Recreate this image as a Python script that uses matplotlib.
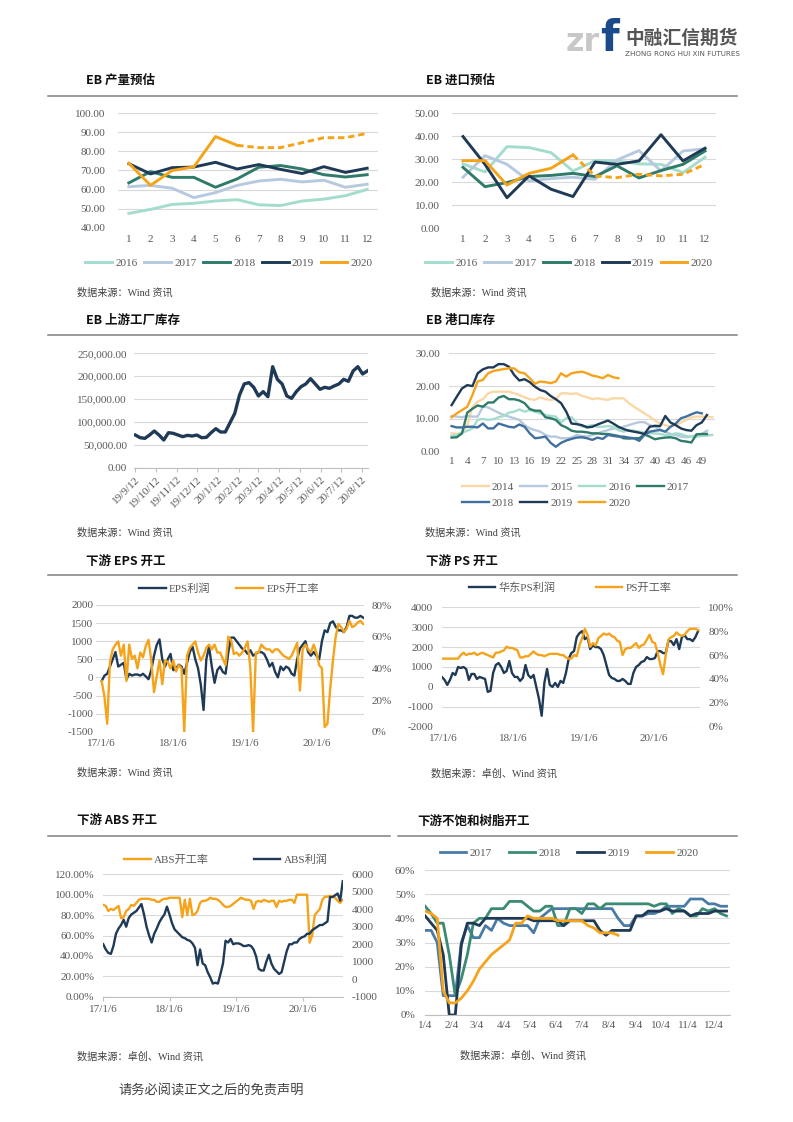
import numpy as np
import pandas as pd
import matplotlib
matplotlib.use('Agg')
import matplotlib.pyplot as plt
import matplotlib.dates as mdates
from matplotlib.lines import Line2D
from matplotlib.ticker import FuncFormatter, MultipleLocator

plt.rcParams['font.family'] = ['Liberation Serif', 'Noto Sans CJK SC']
plt.rcParams['axes.unicode_minus'] = False

# 颜色
NAVY = '#1F3A56'
ORANGE = '#F5A31A'
TEAL = '#2E7B69'
LTEAL = '#A4DCCD'
LBLUE = '#B6C9DE'
PEACH = '#F9D8A6'
STEEL = '#41709F'
STEEL2 = '#4A7BA6'
GREEN2 = '#3A8A74'
GRID = '#D9D9D9'
TXT = '#595959'

# ---------------- 数据 ----------------
months = list(range(1, 13))
prod_2016 = [47.5, 49.6, 52.2, 52.8, 54.0, 54.7, 52.0, 51.6, 54.0, 55.0, 56.8, 60.1]
prod_2017 = [61.5, 62.2, 60.7, 55.8, 58.4, 62.2, 64.5, 65.4, 64.0, 64.9, 61.2, 62.8]
prod_2018 = [63.5, 69.4, 66.4, 66.4, 61.2, 65.6, 71.7, 72.6, 70.8, 67.8, 66.6, 67.8]
prod_2019 = [73.6, 68.2, 71.5, 71.8, 74.3, 70.8, 73.1, 70.6, 68.4, 72.0, 69.0, 71.2]
prod_2020 = [73.8, 62.2, 70.0, 71.9, 87.8, 83.2]
prod_2020_fcst = [83.2, 82.0, 82.0, 84.6, 87.2, 87.2, 89.5]

imp_2016 = [28.0, 24.5, 35.5, 35.1, 32.9, 24.9, 29.4, 29.3, 28.0, 27.8, 24.2, 30.9]
imp_2017 = [22.2, 31.6, 27.8, 20.6, 21.6, 22.2, 21.3, 29.7, 33.8, 24.9, 33.6, 34.6]
imp_2018 = [26.5, 18.1, 19.9, 22.5, 23.0, 23.9, 22.5, 27.2, 21.9, 25.1, 27.8, 33.6]
imp_2019 = [39.9, 27.8, 13.3, 22.8, 17.0, 13.8, 28.8, 27.8, 29.3, 40.7, 29.3, 34.8]
imp_2020 = [29.4, 29.4, 18.8, 23.9, 26.1, 31.9]
imp_2020_fcst = [31.9, 22.8, 22.0, 23.5, 22.8, 23.5, 27.8]

# 上游工厂库存 (周度, 自 2019-09-12)
fac_stock = [71400, 65600, 64100, 71400, 80200, 71400, 60500, 76500, 75100, 71400,
             67800, 70700, 69200, 71400, 65600, 66300, 76500, 85300, 78000, 78000,
             98400, 118800, 158900, 183000, 185900, 175700, 156700, 166200, 155200, 220800,
             193100, 183000, 156700, 151600, 166200, 177100, 183000, 194600, 183000, 171300,
             175700, 173500, 178600, 183000, 193100, 188800, 211400, 220800, 204800, 211400]

# 港口库存 (按周)
port_2014 = [5.6, 5.4, 5.8, 8.1, 13.7, 15.3, 16.0, 17.8, 18.3, 18.3,
             18.3, 18.3, 17.8, 17.3, 16.6, 16.0, 15.8, 16.6, 16.0, 15.8,
             16.0, 17.8, 17.8, 17.6, 17.8, 17.0, 16.6, 16.0, 16.3, 16.0,
             15.8, 16.3, 16.3, 16.3, 14.8, 13.7, 12.7, 11.7, 10.7, 9.5,
             8.6, 8.1, 7.6, 8.1, 8.9, 9.7, 10.5, 10.7, 10.7, 10.7, 10.5]
port_2015 = [10.9, 10.7, 10.5, 10.9, 10.7, 10.7, 13.7, 13.5, 12.7, 11.9,
             11.2, 10.7, 10.2, 9.7, 8.1, 7.1, 6.6, 6.1, 5.1, 4.6,
             4.6, 4.1, 4.1, 4.3, 5.1, 4.8, 4.6, 5.1, 5.6, 6.1,
             6.6, 7.1, 7.1, 7.6, 8.1, 8.6, 9.0, 9.0, 8.1, 7.6,
             6.8, 6.1, 5.4, 5.1, 4.6, 4.4, 4.6, 5.1, 5.4, 6.4]
port_2016 = [4.8, 5.1, 5.8, 6.4, 7.1, 9.7, 10.0, 9.7, 9.9, 10.5,
             10.9, 11.9, 12.2, 12.9, 12.2, 12.7, 12.2, 11.7, 11.2, 10.9,
             10.7, 8.9, 10.2, 10.5, 8.9, 7.6, 7.8, 8.1, 7.6, 7.6,
             7.8, 7.6, 6.6, 6.1, 6.6, 6.4, 6.1, 5.8, 5.6, 5.6,
             5.4, 5.1, 5.1, 5.6, 5.4, 4.8, 4.6, 4.6, 4.8, 4.9, 5.1]
port_2017 = [4.3, 4.4, 5.6, 11.9, 13.1, 14.1, 13.7, 15.0, 15.0, 16.5,
             17.0, 16.0, 16.0, 15.6, 14.8, 13.0, 12.5, 12.5, 10.5, 10.2,
             9.7, 8.1, 7.4, 6.4, 6.1, 6.1, 5.9, 5.6, 5.6, 5.4,
             5.4, 5.1, 4.8, 4.1, 4.0, 4.1, 4.1, 5.3, 4.6, 3.8,
             4.1, 4.3, 4.4, 4.1, 3.3, 3.1, 2.8, 5.3, 5.4, 5.4]
port_2018 = [7.8, 7.4, 7.4, 7.6, 7.6, 7.4, 8.6, 7.1, 7.1, 8.6,
             8.1, 7.6, 7.4, 8.3, 7.6, 5.6, 4.1, 4.3, 4.6, 2.7,
             1.5, 2.7, 3.4, 3.9, 4.3, 4.4, 4.1, 3.6, 4.3, 3.9,
             5.1, 4.8, 4.6, 4.6, 4.3, 4.1, 3.3, 5.1, 6.1, 6.4,
             6.6, 6.1, 7.6, 8.6, 10.2, 10.7, 11.4, 12.0, 11.7]
port_2019 = [14.2, 16.8, 19.3, 20.3, 20.0, 23.9, 25.1, 25.7, 25.7, 26.7,
             26.7, 25.9, 23.4, 21.7, 22.1, 21.2, 19.8, 18.8, 18.3, 17.0,
             16.0, 14.8, 12.2, 8.6, 8.4, 8.1, 7.4, 7.6, 8.3, 8.9,
             9.5, 8.6, 7.6, 6.9, 6.4, 6.1, 5.8, 5.4, 7.6, 7.9,
             7.8, 10.9, 8.9, 8.1, 7.1, 6.6, 6.4, 8.1, 8.9, 11.2]
port_2020 = [10.5, 11.7, 12.7, 13.7, 17.3, 21.4, 21.9, 23.9, 24.6, 24.9,
             25.2, 25.4, 25.4, 24.2, 23.9, 22.4, 20.7, 21.4, 21.2, 20.9,
             21.4, 23.9, 22.9, 23.9, 24.2, 24.4, 23.9, 23.2, 22.9, 22.4,
             23.4, 22.7, 22.4]

# EPS (双周, 自 2017-01-06)
eps_profit = [-100, 50, 100, 300, 500, 700, 300, 350, 400, -50,
              100, 50, 80, 80, 50, 100, 30, -50, 200, 600,
              900, 1050, 500, 300, 500, 650, 200, 250, 350, 300,
              100, 400, 700, 850, 500, 250, -200, -900, 500, 850,
              300, -150, 200, 300, 150, 100, 700, 1100, 1100, 1000,
              900, 800, 750, 650, 750, 600, 650, 700, 700, 650,
              500, 300, 400, 150, 0, 300, 200, 300, 250, 100,
              50, 500, 800, 900, 1000, 700, 600, 700, 600, 500,
              1000, 1300, 1250, 1500, 1550, 1400, 1300, 1300, 1250, 1400,
              1700, 1700, 1650, 1650, 1700, 1650]
eps_rate = [32, 22, 5, 44, 52, 55, 57, 48, 55, 32,
            55, 46, 48, 40, 50, 47, 54, 58, 45, 25,
            35, 45, 30, 45, 44, 40, 45, 38, 42, 40,
            0, 48, 53, 55, 57, 50, 45, 48, 53, 55,
            52, 55, 50, 50, 46, 42, 60, 58, 49, 50,
            48, 50, 53, 57, 40, 0, 50, 50, 55, 53,
            52, 52, 50, 52, 52, 50, 48, 47, 46, 48,
            52, 56, 26, 52, 55, 52, 50, 55, 50, 42,
            40, 3, 5, 27, 45, 60, 68, 66, 63, 65,
            70, 66, 67, 69, 70, 68]

# PS (双周, 自 2016-12-30)
ps_profit = [500, 350, 100, 350, 700, 600, 1000, 950, 1000, 900,
             350, 650, 650, 400, 500, 450, 400, -250, -200, 700,
             1100, 1200, 1000, 700, 800, 1300, 700, 500, 500, 300,
             450, 1100, 600, 450, 600, 0, -600, -1450, 200, 900,
             100, 0, 200, 0, 300, 200, 700, 1400, 1700, 1800,
             2500, 2700, 2800, 2400, 2500, 1900, 2100, 2000, 2000, 1900,
             1600, 1100, 600, 450, 400, 300, 300, 400, 300, 150,
             150, 700, 1000, 1100, 1250, 1300, 1500, 1400, 1400, 1450,
             1800, 1800, 1700, 1700, 2300, 2300, 2100, 2400, 1900, 2500,
             2600, 2400, 2400, 2300, 2500, 2800]
ps_rate = [57, 57, 57, 57, 57, 57, 57, 60, 62, 60,
           61, 61, 62, 60, 61, 62, 61, 60, 59, 58,
           62, 62, 63, 64, 67, 66, 66, 65, 64, 58,
           58, 59, 59, 61, 63, 61, 60, 60, 59, 60,
           61, 61, 61, 61, 60, 60, 58, 57, 57, 60,
           59, 68, 74, 82, 77, 67, 70, 68, 74, 76,
           78, 77, 78, 76, 75, 72, 71, 60, 65, 66,
           66, 68, 70, 66, 68, 69, 73, 77, 71, 70,
           62, 52, 44, 60, 73, 75, 76, 79, 77, 76,
           77, 80, 82, 82, 82, 81]

# ABS (双周, 自 2017-01-06)
abs_rate = [90, 89, 84, 86, 85, 87, 89, 77, 78, 84,
            86, 90, 89, 92, 95, 96, 96, 96, 96, 95,
            95, 93, 93, 95, 96, 96, 97, 97, 97, 97,
            97, 78, 95, 80, 96, 80, 81, 84, 92, 94,
            94, 95, 97, 96, 96, 95, 93, 90, 88, 88,
            89, 91, 93, 95, 97, 96, 95, 95, 94, 86,
            93, 94, 93, 95, 94, 93, 94, 94, 88, 94,
            93, 94, 94, 95, 95, 92, 100, 100, 100, 100,
            100, 53, 60, 80, 83, 86, 95, 98, 98, 99,
            98, 97, 94, 92, 95]
abs_profit = [2000, 1700, 1500, 1450, 1900, 2600, 2900, 3100, 3400, 3000,
              3500, 3700, 3800, 3900, 4100, 4300, 3700, 3000, 2500, 2100,
              2600, 2900, 3250, 3500, 3700, 4150, 3700, 3200, 2850, 2700,
              2550, 2400, 2350, 2250, 2200, 2050, 1800, 800, 1700, 900,
              800, 400, 100, -250, -200, -250, 300, 900, 2200, 2100,
              2300, 2000, 2050, 2050, 2000, 1900, 1900, 1950, 1900, 1700,
              1300, 600, 500, 500, 1000, 1400, 900, 600, 450, 300,
              400, 1000, 1600, 2000, 2000, 2100, 2100, 2300, 2400, 2450,
              2600, 2600, 2800, 2900, 3000, 3100, 3100, 3200, 3300, 4700,
              4700, 4800, 4900, 4500, 5600]

# 不饱和树脂开工 (周度, %)
upr_2017 = [35, 35, 30, 8, 8, 8, 30, 37, 32, 32,
            37, 35, 40, 38, 37, 37, 37, 37, 34, 40,
            42, 44, 44, 44, 44, 44, 44, 44, 44, 44,
            44, 44, 40, 37, 37, 41, 41, 42, 42, 43,
            45, 45, 45, 45, 48, 48, 48, 46, 46, 45, 45]
upr_2018 = [45, 42, 38, 38, 25, 8, 15, 25, 38, 40,
            40, 44, 44, 44, 47, 47, 47, 45, 43, 43,
            45, 45, 37, 37, 44, 44, 42, 46, 46, 44,
            46, 46, 46, 46, 46, 46, 46, 46, 45, 46,
            46, 42, 44, 43, 41, 41, 44, 43, 44, 42, 41]
upr_2019 = [41, 38, 35, 25, 0, 0, 29, 38, 38, 37,
            40, 40, 40, 40, 40, 40, 40, 40, 39, 39,
            39, 39, 39, 37, 39, 39, 39, 39, 39, 35,
            33, 35, 35, 35, 35, 41, 41, 43, 43, 43,
            44, 43, 43, 43, 41, 42, 42, 42, 43, 43, 43]
upr_2020 = [43, 42, 40, 10, 5, 5, 7, 10, 14, 19,
            22, 25, 27, 29, 31, 38, 38, 41, 40, 40,
            40, 40, 39, 39, 39, 39, 39, 37, 36, 34,
            34, 34, 33]

# ---------------- 画布 ----------------
W, H = 793, 1122
fig = plt.figure(figsize=(W / 100, H / 100), dpi=100)


def px_axes(x0, y0, x1, y1):
    return fig.add_axes([x0 / W, 1 - y1 / H, (x1 - x0) / W, (y1 - y0) / H])


def ftext(x, y, s, **kw):
    fig.text(x / W, 1 - y / H, s, **kw)


def hrule(x0, x1, y):
    fig.add_artist(Line2D([x0 / W, x1 / W], [1 - y / H, 1 - y / H], color='#808080', lw=1.1))


def style_ax(ax, ypad=6, xpad=4):
    for s in ax.spines.values():
        s.set_visible(False)
    ax.grid(axis='y', color=GRID, lw=0.8)
    ax.set_axisbelow(True)
    ax.tick_params(axis='both', length=0, labelsize=8, colors=TXT)
    ax.tick_params(axis='y', pad=ypad)
    ax.tick_params(axis='x', pad=xpad)
    ax.set_facecolor('none')


def add_legend(ax, handles, labels, cx, cy, ncol, colsp=0.6, loc='center'):
    ax.legend(handles, labels, loc=loc, bbox_to_anchor=(cx / W, 1 - cy / H),
              bbox_transform=fig.transFigure, ncol=ncol, frameon=False, fontsize=8,
              handlelength=2.4, handletextpad=0.3, columnspacing=colsp,
              labelspacing=0.6, labelcolor=TXT, borderpad=0, borderaxespad=0)


def title(x, y, s):
    ftext(x, y, s, fontsize=9, weight='bold', family=['Noto Sans CJK SC'], va='center', color='#111111')


def source(x, y, s):
    ftext(x, y, s, fontsize=7.3, va='center', color='#404040')


# ---------------- 页眉 ----------------
ftext(566, 51, 'zr', fontsize=23, weight='bold', family=['DejaVu Sans'], color='#C8C8C8', va='baseline')
ftext(600, 51, 'f', fontsize=31, weight='bold', family=['DejaVu Sans'], color='#1B4A8A', va='baseline')
ftext(625, 38, '中融汇信期货', fontsize=13.5, weight='bold', family=['Noto Sans CJK SC'], color='#555555', va='center')
ftext(625, 54, 'ZHONG RONG HUI XIN FUTURES', fontsize=5.1, family=['DejaVu Sans'], color='#555555', va='center')

# ---------------- 行标题与分隔线 ----------------
title(86, 80, 'EB 产量预估')
title(426, 80, 'EB 进口预估')
hrule(48, 737, 95.5)
title(86, 320, 'EB 上游工厂库存')
title(426, 320, 'EB 港口库存')
hrule(48, 737, 335)
title(86, 562, '下游 EPS 开工')
title(426, 562, '下游 PS 开工')
hrule(48, 737, 575)
title(77, 821, '下游 ABS 开工')
title(417, 821, '下游不饱和树脂开工')
hrule(48, 390, 836)
hrule(398, 737, 836)

# ---------------- EB 产量预估 ----------------
ax = px_axes(118, 113.3, 378, 227.7)
style_ax(ax, ypad=9, xpad=5)
lw = 2.1
series = [(prod_2016, LTEAL, '2016'), (prod_2017, LBLUE, '2017'), (prod_2018, TEAL, '2018'),
          (prod_2019, NAVY, '2019')]
hs = []
for vals, c, lab in series:
    hs.append(ax.plot(months, vals, color=c, lw=lw)[0])
hs.append(ax.plot(months[:len(prod_2020)], prod_2020, color=ORANGE, lw=lw)[0])
ax.plot(months[len(prod_2020) - 1:], prod_2020_fcst, color=ORANGE, lw=lw, ls=(0, (2.2, 1.3)))
ax.set_xlim(0.5, 12.5)
ax.set_ylim(40, 100)
ax.set_xticks(months)
ax.yaxis.set_major_locator(MultipleLocator(10))
ax.yaxis.set_major_formatter(FuncFormatter(lambda v, p: f'{v:.2f}'))
add_legend(ax, hs, ['2016', '2017', '2018', '2019', '2020'], 229, 262.7, 5)
source(77, 293, '数据来源：Wind 资讯')

# ---------------- EB 进口预估 ----------------
ax = px_axes(452, 113.3, 716, 228.3)
style_ax(ax, ypad=9, xpad=5)
series = [(imp_2016, LTEAL, '2016'), (imp_2017, LBLUE, '2017'), (imp_2018, TEAL, '2018'),
          (imp_2019, NAVY, '2019')]
hs = []
for vals, c, lab in series:
    hs.append(ax.plot(months, vals, color=c, lw=lw)[0])
hs.append(ax.plot(months[:len(imp_2020)], imp_2020, color=ORANGE, lw=lw)[0])
ax.plot(months[len(imp_2020) - 1:], imp_2020_fcst, color=ORANGE, lw=lw, ls=(0, (2.2, 1.3)))
ax.set_xlim(0.5, 12.5)
ax.set_ylim(0, 50)
ax.set_xticks(months)
ax.yaxis.set_major_locator(MultipleLocator(10))
ax.yaxis.set_major_formatter(FuncFormatter(lambda v, p: f'{v:.2f}'))
add_legend(ax, hs, ['2016', '2017', '2018', '2019', '2020'], 569, 262.7, 5)
source(431, 293, '数据来源：Wind 资讯')

# ---------------- EB 上游工厂库存 ----------------
ax = px_axes(134, 353.3, 368, 467.7)
style_ax(ax, ypad=5)
fac_dates = pd.date_range('2019-09-12', periods=len(fac_stock), freq='7D')
ax.plot(fac_dates, fac_stock, color=NAVY, lw=2.4)
ax.set_xlim(pd.Timestamp('2019-09-10'), pd.Timestamp('2020-08-21'))
ax.set_ylim(0, 250000)
ax.yaxis.set_major_locator(MultipleLocator(50000))
ax.yaxis.set_major_formatter(FuncFormatter(lambda v, p: f'{v:,.2f}'))
ax.xaxis.set_major_locator(mdates.MonthLocator(bymonthday=12))
ax.xaxis.set_major_formatter(FuncFormatter(
    lambda v, p: f'{mdates.num2date(v).year % 100}/{mdates.num2date(v).month}/{mdates.num2date(v).day}'))
ax.spines['bottom'].set_visible(True)
ax.spines['bottom'].set_color('#BFBFBF')
ax.tick_params(axis='x', length=3, color='#BFBFBF', pad=2)
for lbl in ax.get_xticklabels():
    lbl.set_rotation(45)
    lbl.set_ha('right')
    lbl.set_rotation_mode('anchor')
source(77, 533, '数据来源：Wind 资讯')

# ---------------- EB 港口库存 ----------------
ax = px_axes(449, 353.3, 714.8, 451.7)
style_ax(ax, ypad=6.5, xpad=4)
port = [(port_2014, PEACH, '2014'), (port_2015, LBLUE, '2015'), (port_2016, LTEAL, '2016'),
        (port_2017, TEAL, '2017'), (port_2018, STEEL, '2018'), (port_2019, NAVY, '2019'),
        (port_2020, ORANGE, '2020')]
hmap = {}
for vals, c, lab in port:
    hmap[lab] = ax.plot(range(1, len(vals) + 1), vals, color=c, lw=1.7)[0]
ax.set_xlim(0.5, 51.5)
ax.set_ylim(0, 30)
ax.set_xticks(range(1, 50, 3))
ax.yaxis.set_major_locator(MultipleLocator(10))
ax.yaxis.set_major_formatter(FuncFormatter(lambda v, p: f'{v:.2f}'))
# 按行排列图例: 第一行 2014-2017, 第二行 2018-2020
order = ['2014', '2018', '2015', '2019', '2016', '2020', '2017']
add_legend(ax, [hmap[k] for k in order], order, 462, 495, 4, colsp=0.55, loc='center left')
source(425, 533, '数据来源：Wind 资讯')


def year_ticks(ax):
    ax.xaxis.set_major_locator(mdates.YearLocator(1, month=1, day=6))
    ax.xaxis.set_major_formatter(FuncFormatter(
        lambda v, p: f'{mdates.num2date(v).year % 100}/{mdates.num2date(v).month}/{mdates.num2date(v).day}'))


# ---------------- 下游 EPS ----------------
ax = px_axes(96, 605, 364, 731.7)
style_ax(ax, ypad=2, xpad=5)
eps_dates = pd.date_range('2017-01-06', periods=len(eps_profit), freq='14D')
h1 = ax.plot(eps_dates, eps_profit, color=NAVY, lw=1.7)[0]
ax.set_ylim(-1500, 2000)
ax.yaxis.set_major_locator(MultipleLocator(500))
ax.set_xlim(pd.Timestamp('2016-12-08'), pd.Timestamp('2020-09-01'))
year_ticks(ax)
ax2 = ax.twinx()
style_ax(ax2, ypad=5.5)
ax2.grid(False)
h2 = ax2.plot(eps_dates, np.array(eps_rate) / 100, color=ORANGE, lw=1.7)[0]
ax2.set_ylim(0, 0.8)
ax2.yaxis.set_major_locator(MultipleLocator(0.2))
ax2.yaxis.set_major_formatter(FuncFormatter(lambda v, p: f'{v:.0%}'))
add_legend(ax2, [h1, h2], ['EPS利润', 'EPS开工率'], 229, 589, 2, colsp=2.3)
source(77, 773, '数据来源：Wind 资讯')

# ---------------- 下游 PS ----------------
ax = px_axes(441.7, 607.3, 700, 726.7)
style_ax(ax, ypad=6, xpad=5)
ps_dates = pd.date_range('2016-12-30', periods=len(ps_profit), freq='14D')
h1 = ax.plot(ps_dates, ps_profit, color=NAVY, lw=1.7)[0]
ax.set_ylim(-2000, 4000)
ax.yaxis.set_major_locator(MultipleLocator(1000))
ax.set_xlim(pd.Timestamp('2016-12-29'), pd.Timestamp('2020-08-31'))
year_ticks(ax)
ax2 = ax.twinx()
style_ax(ax2, ypad=6)
ax2.grid(False)
h2 = ax2.plot(ps_dates, np.array(ps_rate) / 100, color=ORANGE, lw=1.7)[0]
ax2.set_ylim(0, 1.0)
ax2.yaxis.set_major_locator(MultipleLocator(0.2))
ax2.yaxis.set_major_formatter(FuncFormatter(lambda v, p: f'{v:.0%}'))
add_legend(ax2, [h1, h2], ['华东PS利润', 'PS开工率'], 570, 588, 2, colsp=3.6)
source(431, 773, '数据来源：卓创、Wind 资讯')

# ---------------- 下游 ABS ----------------
ax = px_axes(102.7, 874.3, 343.3, 996.7)
style_ax(ax, ypad=6, xpad=3)
abs_dates = pd.date_range('2017-01-06', periods=len(abs_rate), freq='14D')
h1 = ax.plot(abs_dates, np.array(abs_rate) / 100, color=ORANGE, lw=1.7)[0]
ax.set_ylim(0, 1.2)
ax.yaxis.set_major_locator(MultipleLocator(0.2))
ax.yaxis.set_major_formatter(FuncFormatter(lambda v, p: f'{v * 100:.2f}%'))
ax.set_xlim(pd.Timestamp('2017-01-03'), pd.Timestamp('2020-08-17'))
year_ticks(ax)
ax.spines['bottom'].set_visible(True)
ax.spines['bottom'].set_color('#BFBFBF')
ax.tick_params(axis='x', length=3, color='#BFBFBF')
ax2 = ax.twinx()
style_ax(ax2, ypad=6)
ax2.grid(False)
h2 = ax2.plot(abs_dates, abs_profit, color=NAVY, lw=1.7)[0]
ax2.set_ylim(-1000, 6000)
ax2.yaxis.set_major_locator(MultipleLocator(1000))
add_legend(ax2, [h1, h2], ['ABS开工率', 'ABS利润'], 226, 860, 2, colsp=4.0)
source(77, 1056, '数据来源：卓创、Wind 资讯')

# ---------------- 不饱和树脂 ----------------
ax = px_axes(425, 870, 730, 1015)
style_ax(ax, ypad=7, xpad=4)
upr = [(upr_2017, STEEL2, '2017'), (upr_2018, GREEN2, '2018'), (upr_2019, NAVY, '2019'),
       (upr_2020, ORANGE, '2020')]
hs = []
for vals, c, lab in upr:
    d = pd.date_range('2020-01-04', periods=len(vals), freq='7D')
    hs.append(ax.plot(d, np.array(vals) / 100, color=c, lw=2.0)[0])
ax.set_xlim(pd.Timestamp('2020-01-03 20:00'), pd.Timestamp('2020-12-23'))
ax.set_ylim(0, 0.6)
ax.yaxis.set_major_locator(MultipleLocator(0.1))
ax.yaxis.set_major_formatter(FuncFormatter(lambda v, p: f'{v:.0%}'))
ax.xaxis.set_major_locator(mdates.MonthLocator(bymonthday=4))
ax.xaxis.set_major_formatter(FuncFormatter(
    lambda v, p: f'{mdates.num2date(v).month}/{mdates.num2date(v).day}'))
ax.spines['bottom'].set_visible(True)
ax.spines['bottom'].set_color('#BFBFBF')
add_legend(ax, hs, ['2017', '2018', '2019', '2020'], 569, 853, 4, colsp=1.5)
source(460, 1055, '数据来源：卓创、Wind 资讯')

# ---------------- 页脚 ----------------
ftext(118, 1091, '请务必阅读正文之后的免责声明', fontsize=9.5, color='#404040', va='center',
      family=['Noto Sans CJK SC'])

fig.savefig('out.png', dpi=100)
